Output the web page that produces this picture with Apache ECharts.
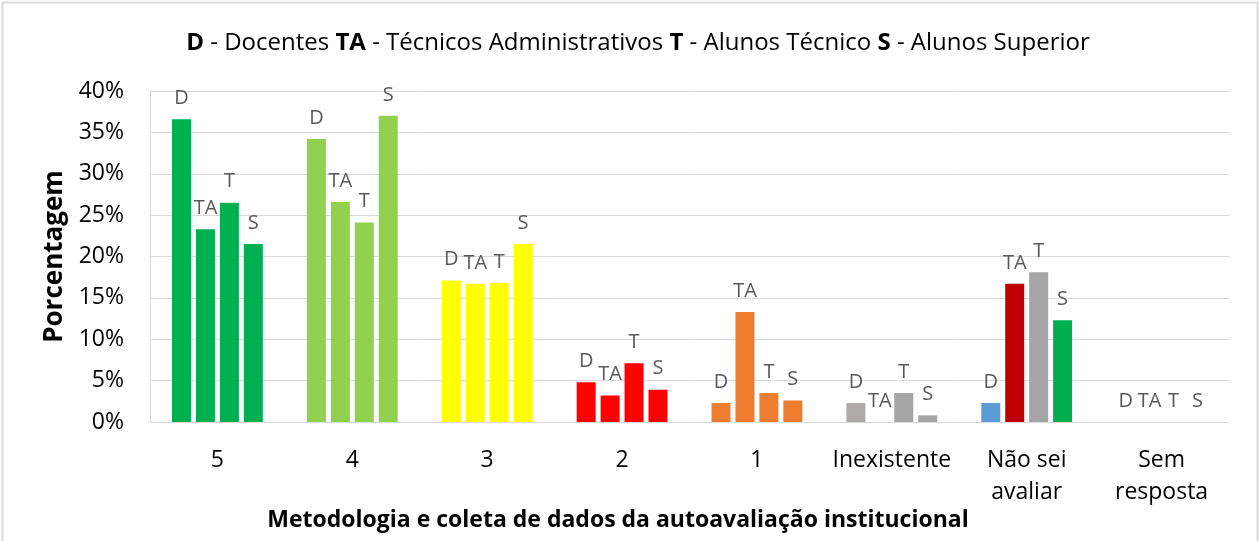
<!DOCTYPE html>
<html>
<head>
<meta charset="utf-8">
<script src="https://cdn.jsdelivr.net/npm/echarts@6/dist/echarts.min.js"></script>
<style>
  html, body { margin: 0; padding: 0; background: #fff; }
  #main { width: 1259px; height: 541px; }
</style>
</head>
<body>
<div id="main"></div>
<script>
// categorias e valores (%)
var categories = ['5', '4', '3', '2', '1', 'Inexistente', 'Não sei\navaliar', 'Sem\nresposta'];
var seriesNames = ['D', 'TA', 'T', 'S'];
var valD  = [36.6, 34.2, 17.1, 4.8, 2.3, 2.3, 2.3, 0];
var valTA = [23.3, 26.6, 16.7, 3.2, 13.3, 0, 16.7, 0];
var valT  = [26.5, 24.1, 16.8, 7.1, 3.5, 3.5, 18.1, 0];
var valS  = [21.5, 37.0, 21.5, 3.9, 2.6, 0.8, 12.3, 0];
var yTicks = [0, 5, 10, 15, 20, 25, 30, 35, 40];

// cores por categoria, e as excecoes do "Não sei avaliar"
var catColors = ['#00B050', '#92D050', '#FFFF00', '#FF0000', '#ED7D31', '#A5A5A5', '#A5A5A5', '#A5A5A5'];
var naoSeiColors = ['#5B9BD5', '#C00000', '#A5A5A5', '#00B050'];

var font = 'Open Sans';
var allVals = [valD, valTA, valT, valS];

var series = seriesNames.map(function (name, si) {
  return {
    name: name,
    type: 'bar',
    barWidth: 19,
    barGap: '26%',
    data: allVals[si].map(function (v, ci) {
      var c = catColors[ci];
      if (ci === 6) c = naoSeiColors[si];
      if (ci === 5 && si === 0) c = '#AEAAAA';
      return { value: v, itemStyle: { color: c } };
    }),
    label: {
      show: true,
      position: 'top',
      distance: 11,
      formatter: name,
      color: '#595959',
      fontFamily: font,
      fontSize: 20
    }
  };
});

var myChart = echarts.init(document.getElementById('main'));
var option = {
  backgroundColor: '#fff',
  animation: false,
  title: [{
    left: 633,
    top: 26,
    textAlign: 'center',
    text: '{b|D} - Docentes {b|TA} - Técnicos Administrativos {b|T} - Alunos Técnico {b|S} - Alunos Superior',
    textStyle: {
      fontFamily: font,
      fontSize: 24,
      fontWeight: 'normal',
      color: '#000',
      rich: {
        b: { fontFamily: font, fontSize: 24, fontWeight: 'bold', color: '#000' }
      }
    }
  }, {
    left: 613,
    top: 504,
    textAlign: 'center',
    text: 'Metodologia e coleta de dados da autoavaliação institucional',
    textStyle: { fontFamily: font, fontSize: 23, fontWeight: 'bold', color: '#000' }
  }],
  graphic: [{
    type: 'rect',
    shape: { x: 2.5, y: 2.5, width: 1255, height: 545 },
    style: { fill: 'none', stroke: '#D9D9D9', lineWidth: 2 },
    silent: true
  }],
  grid: { left: 150, right: 30, top: 91, bottom: 119 },
  xAxis: {
    type: 'category',
    data: categories,
    axisLine: { lineStyle: { color: '#D9D9D9' } },
    axisTick: { show: false },
    axisLabel: {
      interval: 0,
      margin: 22,
      fontFamily: font,
      fontSize: 23,
      lineHeight: 32,
      color: '#000',
      verticalAlign: 'top'
    }
  },
  yAxis: {
    type: 'value',
    min: 0,
    max: 40,
    interval: 5,
    name: 'Porcentagem',
    nameLocation: 'middle',
    nameGap: 82,
    nameTextStyle: { fontFamily: font, fontSize: 26, fontWeight: 'bold', color: '#000' },
    axisLine: { show: true, lineStyle: { color: '#D9D9D9' } },
    axisTick: { show: false },
    splitLine: { lineStyle: { color: '#D9D9D9' } },
    axisLabel: {
      margin: 26,
      fontFamily: font,
      fontSize: 23,
      color: '#000',
      formatter: function (v) { return yTicks.indexOf(v) >= 0 ? v + '%' : ''; }
    }
  },
  series: series
};
myChart.setOption(option);
</script>
</body>
</html>
